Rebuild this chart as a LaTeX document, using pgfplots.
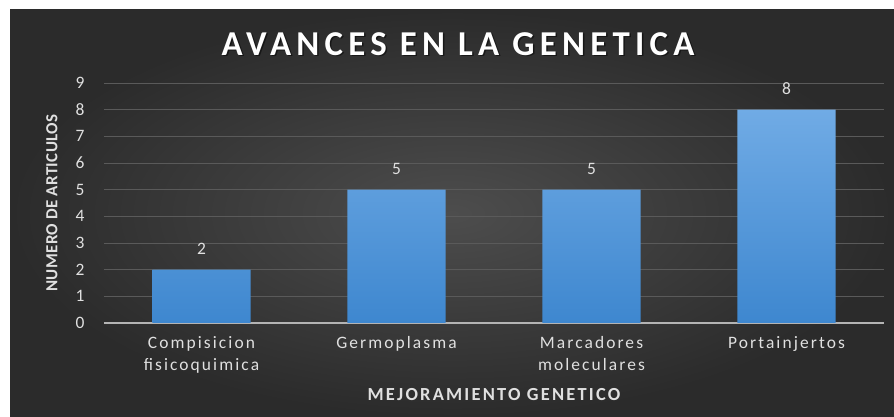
\documentclass[border=0pt]{standalone}
\usepackage{pgfplots}
\pgfplotsset{compat=1.18}
\usepackage{pgfplotstable}
\usepackage{fontspec}
\setmainfont{Carlito}
\definecolor{bgin}{HTML}{4D4D4D}
\definecolor{bgout}{HTML}{2B2B2B}
\definecolor{gridc}{HTML}{5A5A5A}
\definecolor{axisc}{HTML}{B4B4B4}
\definecolor{bartop}{HTML}{70ABE5}
\definecolor{barbot}{HTML}{3E87CF}
\definecolor{txt}{HTML}{E0E0E0}
\pgfplotstableread{
x y
0 2
1 5
2 5
3 8
}\datatable
\begin{document}
\begin{tikzpicture}
\fill[white] (0,0) rectangle (894bp,417bp);
\shade[inner color=bgin, outer color=bgout] (10bp,0) rectangle (894bp,407bp);
\node[text=black, opacity=0.5, font=\fontsize{35}{38}\selectfont\bfseries\addfontfeature{LetterSpace=15}] at (459.5bp, 371.5bp) {AVANCES EN LA GENETICA};
\node[text=white, font=\fontsize{35}{38}\selectfont\bfseries\addfontfeature{LetterSpace=15}] at (458bp, 373bp) {AVANCES EN LA GENETICA};
\begin{axis}[
  at={(104bp,94bp)}, anchor=south west,
  width=780bp, height=240bp, scale only axis,
  xmin=-0.5, xmax=3.5, ymin=0, ymax=9,
  ytick={0,1,...,9}, xtick={0,1,2,3},
  xticklabels={{Compisicion\\fisicoquimica},{Germoplasma},{Marcadores\\moleculares},{Portainjertos}},
  separate axis lines,
  axis x line*=bottom, axis y line*=left,
  x axis line style={draw=axisc, line width=1.3bp, -},
  y axis line style={draw=none},
  major tick length=0pt,
  ymajorgrids, grid style={draw=gridc, line width=0.9bp},
  /pgf/number format/assume math mode=true,
  yticklabel style={text=txt, font=\fontsize{17.5}{19}\selectfont, xshift=-16bp},
  xticklabel style={text=txt, font=\fontsize{17.5}{22}\selectfont\addfontfeature{LetterSpace=12}, align=center, inner sep=0pt, yshift=-13bp},
  nodes near coords,
  nodes near coords style={text=txt, font=\fontsize{17.5}{19}\selectfont, anchor=south, inner sep=0pt, yshift=15bp},
  point meta=y,
]
\addplot[ybar, bar width=0.505, bar shift=0pt, draw=none, top color=bartop, bottom color=barbot] table[x=x,y=y] {\datatable};
\end{axis}
\node[rotate=90, text=txt, font=\fontsize{17}{20}\selectfont\bfseries\addfontfeature{LetterSpace=2}] at (52bp, 214bp) {NUMERO DE ARTICULOS};
\node[text=txt, font=\fontsize{18.5}{20}\selectfont\bfseries\addfontfeature{LetterSpace=12}] at (494bp, 22bp) {MEJORAMIENTO GENETICO};
\end{tikzpicture}
\end{document}
